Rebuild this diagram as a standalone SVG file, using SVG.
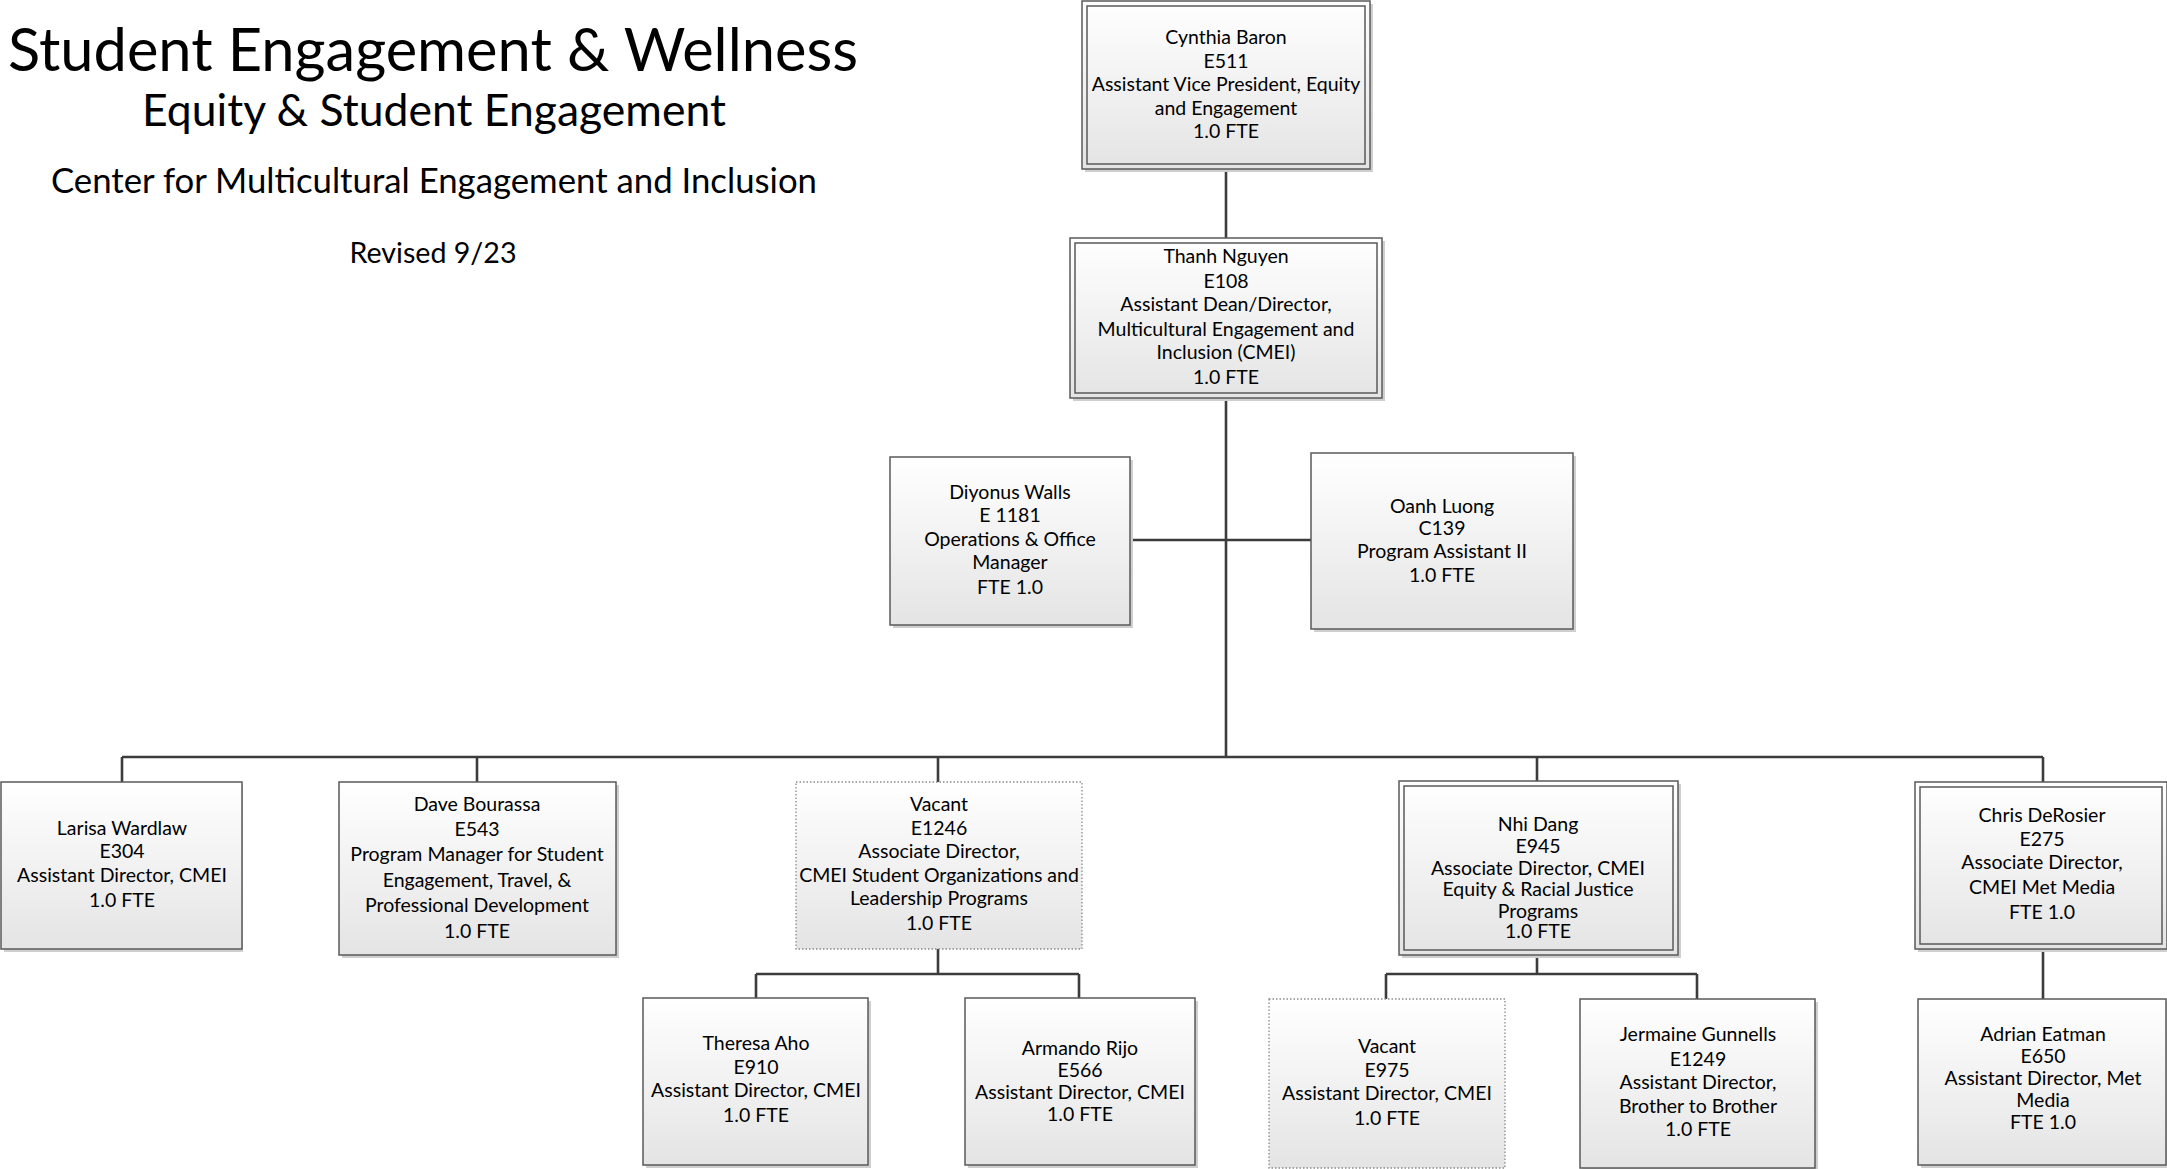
<svg xmlns="http://www.w3.org/2000/svg" width="2167" height="1169" viewBox="0 0 2167 1169">
<defs>
<linearGradient id="g" x1="0" y1="0" x2="0" y2="1">
<stop offset="0" stop-color="#ffffff"/>
<stop offset="1" stop-color="#e4e4e4"/>
</linearGradient>
</defs>
<style>
.t{font-family:Lato,"Liberation Sans",sans-serif;fill:#000;text-anchor:middle}
.n{font-size:19.5px}
.box{fill:url(#g);stroke:#5a5a5a;stroke-width:1.5}
.in{fill:none;stroke:#5a5a5a;stroke-width:1.5}
.dot{fill:url(#g);stroke:#8a8a8a;stroke-width:1.3;stroke-dasharray:1.5 2}
.sh{fill:#cfcfcf}
.c{stroke:#3c3c3c;stroke-width:2.6;fill:none}
</style>
<rect width="2167" height="1169" fill="#fff"/>
<g id="title">
<text class="t" x="433" y="71" font-size="60" textLength="850" lengthAdjust="spacingAndGlyphs">Student Engagement &amp; Wellness</text>
<text class="t" x="434" y="126" font-size="44" textLength="584" lengthAdjust="spacingAndGlyphs">Equity &amp; Student Engagement</text>
<text class="t" x="434" y="193" font-size="34" textLength="766" lengthAdjust="spacingAndGlyphs">Center for Multicultural Engagement and Inclusion</text>
<text class="t" x="433" y="263" font-size="29" textLength="167" lengthAdjust="spacingAndGlyphs">Revised 9/23</text>
</g>
<g id="connectors">
<path class="c" d="M1226 169V238M1226 398V757M1130 540H1311M122 757H2043M122 757V782M477 757V782M938 757V782M1537 757V781M2043 757V782M938 949V974M756 974H1079M756 974V998M1079 974V998M1537 955V974M1386 974H1697M1386 974V999M1697 974V999M2043 949V999"/>
</g>
<g id="cynthia">
<rect class="sh" x="1085" y="4" width="288" height="168"/>
<rect class="box" x="1082" y="1" width="288" height="168"/>
<rect class="in" x="1087" y="6" width="278" height="158"/>
<text class="t n" x="1226" y="44">Cynthia Baron</text>
<text class="t n" x="1226" y="68">E511</text>
<text class="t n" x="1226" y="91">Assistant Vice President, Equity</text>
<text class="t n" x="1226" y="115">and Engagement</text>
<text class="t n" x="1226" y="138">1.0 FTE</text>
</g>
<g id="thanh">
<rect class="sh" x="1073" y="241" width="312" height="160"/>
<rect class="box" x="1070" y="238" width="312" height="160"/>
<rect class="in" x="1075" y="243" width="302" height="150"/>
<text class="t n" x="1226" y="263">Thanh Nguyen</text>
<text class="t n" x="1226" y="288">E108</text>
<text class="t n" x="1226" y="311">Assistant Dean/Director,</text>
<text class="t n" x="1226" y="336">Multicultural Engagement and</text>
<text class="t n" x="1226" y="359">Inclusion (CMEI)</text>
<text class="t n" x="1226" y="384">1.0 FTE</text>
</g>
<g id="diyonus">
<rect class="sh" x="893" y="460" width="240" height="168"/>
<rect class="box" x="890" y="457" width="240" height="168"/>
<text class="t n" x="1010" y="499">Diyonus Walls</text>
<text class="t n" x="1010" y="522">E 1181</text>
<text class="t n" x="1010" y="546">Operations &amp; Office</text>
<text class="t n" x="1010" y="569">Manager</text>
<text class="t n" x="1010" y="594">FTE 1.0</text>
</g>
<g id="oanh">
<rect class="sh" x="1314" y="456" width="262" height="176"/>
<rect class="box" x="1311" y="453" width="262" height="176"/>
<text class="t n" x="1442" y="513">Oanh Luong</text>
<text class="t n" x="1442" y="535">C139</text>
<text class="t n" x="1442" y="558">Program Assistant II</text>
<text class="t n" x="1442" y="582">1.0 FTE</text>
</g>
<g id="larisa">
<rect class="sh" x="4" y="785" width="239" height="167"/>
<rect class="box" x="1" y="782" width="241" height="167"/>
<text class="t n" x="122" y="835">Larisa Wardlaw</text>
<text class="t n" x="122" y="858">E304</text>
<text class="t n" x="122" y="882">Assistant Director, CMEI</text>
<text class="t n" x="122" y="907">1.0 FTE</text>
</g>
<g id="dave">
<rect class="sh" x="342" y="785" width="277" height="173"/>
<rect class="box" x="339" y="782" width="277" height="173"/>
<text class="t n" x="477" y="811">Dave Bourassa</text>
<text class="t n" x="477" y="836">E543</text>
<text class="t n" x="477" y="861">Program Manager for Student</text>
<text class="t n" x="477" y="887">Engagement, Travel, &amp;</text>
<text class="t n" x="477" y="912">Professional Development</text>
<text class="t n" x="477" y="938">1.0 FTE</text>
</g>
<g id="vacant-e1246">
<rect class="dot" x="796" y="782" width="286" height="167"/>
<text class="t n" x="939" y="811">Vacant</text>
<text class="t n" x="939" y="835">E1246</text>
<text class="t n" x="939" y="858">Associate Director,</text>
<text class="t n" x="939" y="882">CMEI Student Organizations and</text>
<text class="t n" x="939" y="905">Leadership Programs</text>
<text class="t n" x="939" y="930">1.0 FTE</text>
</g>
<g id="nhi">
<rect class="sh" x="1402" y="784" width="279" height="174"/>
<rect class="box" x="1399" y="781" width="279" height="174"/>
<rect class="in" x="1404" y="786" width="269" height="164"/>
<text class="t n" x="1538" y="831">Nhi Dang</text>
<text class="t n" x="1538" y="853">E945</text>
<text class="t n" x="1538" y="875">Associate Director, CMEI</text>
<text class="t n" x="1538" y="896">Equity &amp; Racial Justice</text>
<text class="t n" x="1538" y="918">Programs</text>
<text class="t n" x="1538" y="938">1.0 FTE</text>
</g>
<g id="chris">
<rect class="sh" x="1918" y="785" width="252" height="167"/>
<rect class="box" x="1915" y="782" width="252" height="167"/>
<rect class="in" x="1920" y="787" width="242" height="157"/>
<text class="t n" x="2042" y="822">Chris DeRosier</text>
<text class="t n" x="2042" y="846">E275</text>
<text class="t n" x="2042" y="869">Associate Director,</text>
<text class="t n" x="2042" y="894">CMEI Met Media</text>
<text class="t n" x="2042" y="919">FTE 1.0</text>
</g>
<g id="theresa">
<rect class="sh" x="646" y="1001" width="225" height="167"/>
<rect class="box" x="643" y="998" width="225" height="167"/>
<text class="t n" x="756" y="1050">Theresa Aho</text>
<text class="t n" x="756" y="1074">E910</text>
<text class="t n" x="756" y="1097">Assistant Director, CMEI</text>
<text class="t n" x="756" y="1122">1.0 FTE</text>
</g>
<g id="armando">
<rect class="sh" x="968" y="1001" width="230" height="167"/>
<rect class="box" x="965" y="998" width="230" height="167"/>
<text class="t n" x="1080" y="1055">Armando Rijo</text>
<text class="t n" x="1080" y="1077">E566</text>
<text class="t n" x="1080" y="1099">Assistant Director, CMEI</text>
<text class="t n" x="1080" y="1121">1.0 FTE</text>
</g>
<g id="vacant-e975">
<rect class="dot" x="1269" y="999" width="236" height="169"/>
<text class="t n" x="1387" y="1053">Vacant</text>
<text class="t n" x="1387" y="1077">E975</text>
<text class="t n" x="1387" y="1100">Assistant Director, CMEI</text>
<text class="t n" x="1387" y="1125">1.0 FTE</text>
</g>
<g id="jermaine">
<rect class="sh" x="1583" y="1002" width="235" height="169"/>
<rect class="box" x="1580" y="999" width="235" height="169"/>
<text class="t n" x="1698" y="1041">Jermaine Gunnells</text>
<text class="t n" x="1698" y="1066">E1249</text>
<text class="t n" x="1698" y="1089">Assistant Director,</text>
<text class="t n" x="1698" y="1113">Brother to Brother</text>
<text class="t n" x="1698" y="1136">1.0 FTE</text>
</g>
<g id="adrian">
<rect class="sh" x="1921" y="1002" width="246" height="166"/>
<rect class="box" x="1918" y="999" width="248" height="166"/>
<text class="t n" x="2043" y="1041">Adrian Eatman</text>
<text class="t n" x="2043" y="1063">E650</text>
<text class="t n" x="2043" y="1085">Assistant Director, Met</text>
<text class="t n" x="2043" y="1107">Media</text>
<text class="t n" x="2043" y="1129">FTE 1.0</text>
</g>
</svg>
